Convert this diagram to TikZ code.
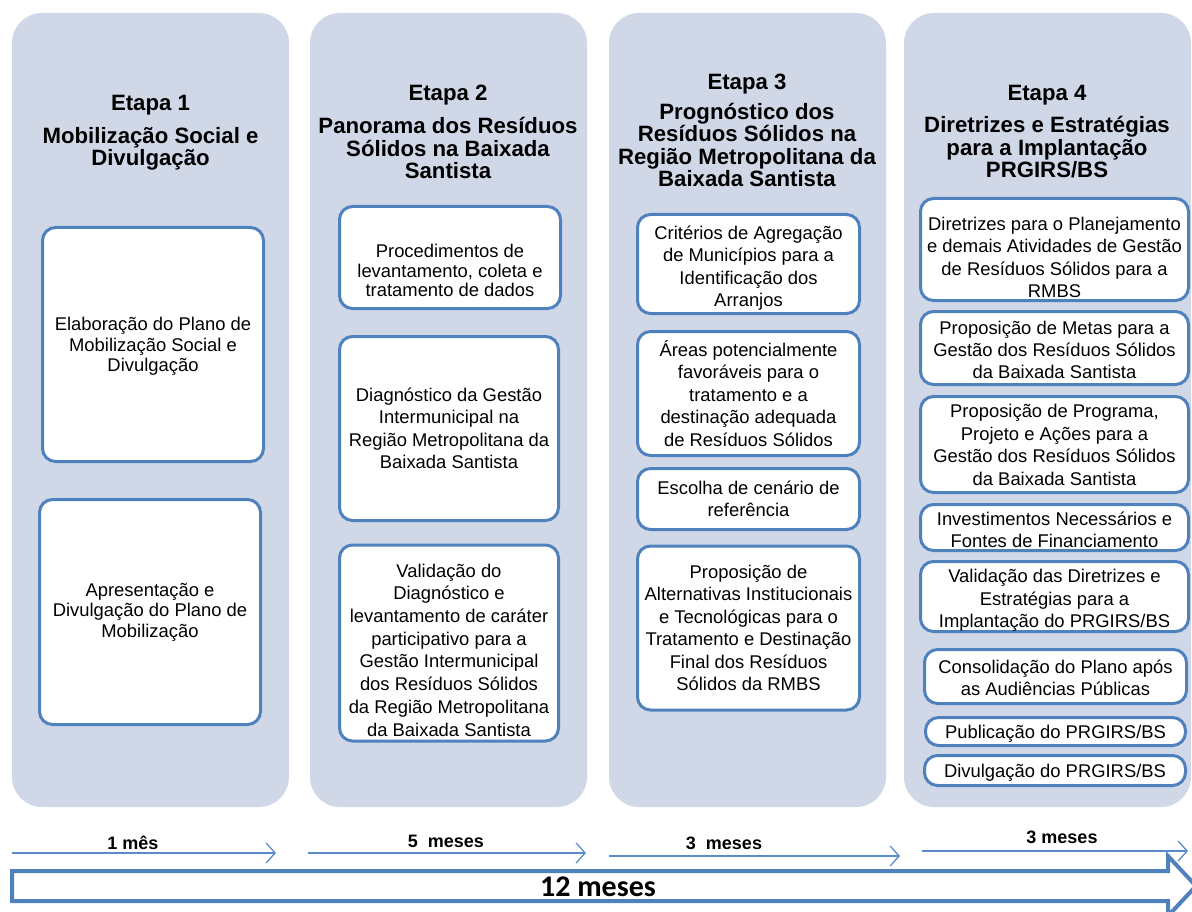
\documentclass[tikz,border=0pt]{standalone}
\usepackage{fontspec}
\setmainfont{Liberation Sans}
\newfontfamily\calib{Carlito}
\usetikzlibrary{arrows.meta}
\definecolor{colfill}{HTML}{D0D8E8}
\definecolor{boxline}{HTML}{4F81BD}
\definecolor{arrline}{HTML}{5B8CC8}
% #1 name, #2 cx, #3 cy, #4 width, #5 height, #6 text shift down, #7 baselineskip, #8 text
\newcommand\boxitem[8]{%
  \node[box, minimum width=#4, minimum height=#5] (#1) at (#2,#3) {};
  \node[boxtext, font=\fontsize{18.4}{#7}\selectfont] (#1-t) at ([yshift=-#6pt]#1.center) {#8};
}
\begin{document}
\begin{tikzpicture}[x=1pt,y=-1pt,
  column/.style={fill=colfill, draw=none, rounded corners=30pt, inner sep=0pt},
  etapa/.style={font=\bfseries\fontsize{22.2}{22.5}\selectfont, align=center, inner sep=0pt, anchor=base},
  title/.style={font=\bfseries\fontsize{22.2}{22.5}\selectfont, align=center, inner sep=0pt, anchor=base},
  box/.style={draw=boxline, line width=3pt, fill=white, rounded corners=13pt, inner sep=0pt},
  boxtext/.style={inner sep=0pt, align=center},
  dur/.style={font=\bfseries\fontsize{18}{20}\selectfont, inner sep=0pt},
  thin/.style={draw=arrline, line width=1.3pt, -{Straight Barb[length=9pt,width=20pt,line width=1.3pt]}},
  big/.style={draw=boxline, line width=4pt, fill=white, line join=miter}
]
\useasboundingbox (0,0) rectangle (1192,912);

% columns
\node[column, minimum width=277, minimum height=794] (c1) at (150.5,410) {};
\node[column, minimum width=277, minimum height=794] (c2) at (448.5,410) {};
\node[column, minimum width=277, minimum height=794] (c3) at (747.5,410) {};
\node[column, minimum width=287, minimum height=794] (c4) at (1047.5,410) {};

% titles (title nodes anchored at the baseline of their last line)
\node[etapa] (t1) at (150.5,111) {Etapa 1};
\node[title] (s1) at (150.5,166) {Mobilização Social e\\Divulgação};
\node[etapa] (t2) at (448,101) {Etapa 2};
\node[title] (s2) at (448,179) {Panorama dos Resíduos\\Sólidos na Baixada\\Santista};
\node[etapa] (t3) at (747,90) {Etapa 3};
\node[title] (s3) at (747,187) {Prognóstico dos\\Resíduos Sólidos na\\Região Metropolitana da\\Baixada Santista};
\node[etapa] (t4) at (1047,101) {Etapa 4};
\node[title] (s4) at (1047,178) {Diretrizes e Estratégias\\para a Implantação\\PRGIRS/BS};

% column 1
\boxitem{e1a}{153}{344.5}{221}{234}{2}{20.5}{Elaboração do Plano de\\Mobilização Social e\\Divulgação}
\boxitem{e1b}{150}{612}{221}{225}{0}{20.5}{Apresentação e\\Divulgação do Plano de\\Mobilização}

% column 2
\boxitem{e2a}{450}{257.5}{221}{102}{13}{19.5}{Procedimentos de\\levantamento, coleta e\\tratamento de dados}
\boxitem{e2b}{449}{428.5}{219}{184}{0}{22.4}{Diagnóstico da Gestão\\Intermunicipal na\\Região Metropolitana da\\Baixada Santista}
\boxitem{e2c}{449}{643}{219}{196}{7}{22.7}{Validação do\\Diagnóstico e\\levantamento de caráter\\participativo para a\\Gestão Intermunicipal\\dos Resíduos Sólidos\\da Região Metropolitana\\da Baixada Santista}

% column 3
\boxitem{e3a}{748.5}{264}{222}{99}{4}{22.4}{Critérios de Agregação\\de Municípios para a\\Identificação dos\\Arranjos}
\boxitem{e3b}{748.5}{393.5}{222}{124}{0}{22.4}{Áreas potencialmente\\favoráveis para o\\tratamento e a\\destinação adequada\\de Resíduos Sólidos}
\boxitem{e3c}{748.5}{499}{222}{61}{0}{22.4}{Escolha de cenário de\\referência}
\boxitem{e3d}{748.5}{628}{222}{164}{0}{22.4}{Proposição de\\Alternativas Institucionais\\e Tecnológicas para o\\Tratamento e Destinação\\Final dos Resíduos\\Sólidos da RMBS}

% column 4
\boxitem{e4a}{1054.5}{249.5}{268}{102}{8}{22.4}{Diretrizes para o Planejamento\\e demais Atividades de Gestão\\de Resíduos Sólidos para a\\RMBS}
\boxitem{e4b}{1054.5}{348}{268}{73}{2}{22.4}{Proposição de Metas para a\\Gestão dos Resíduos Sólidos\\da Baixada Santista}
\boxitem{e4c}{1054.5}{444.5}{268}{96}{0.5}{22.4}{Proposição de Programa,\\Projeto e Ações para a\\Gestão dos Resíduos Sólidos\\da Baixada Santista}
\boxitem{e4d}{1054.5}{527.5}{268}{46}{2.5}{22.4}{Investimentos Necessários e\\Fontes de Financiamento}
\boxitem{e4e}{1054.5}{596.5}{268}{70}{4}{22.4}{Validação das Diretrizes e\\Estratégias para a\\Implantação do PRGIRS/BS}
\boxitem{e4f}{1055.5}{676.5}{262}{54}{1.5}{22.4}{Consolidação do Plano após\\as Audiências Públicas}
\boxitem{e4g}{1055.5}{731.5}{260}{28}{2.5}{22.4}{Publicação do PRGIRS/BS}
\boxitem{e4h}{1055}{770.5}{261}{30}{2.5}{22.4}{Divulgação do PRGIRS/BS}

% durations
\coordinate (a1s) at (12,853);  \coordinate (a1e) at (276,853);
\coordinate (a2s) at (308,853); \coordinate (a2e) at (586,853);
\coordinate (a3s) at (609,856); \coordinate (a3e) at (900,856);
\coordinate (a4s) at (922,851); \coordinate (a4e) at (1188,851);
\draw[thin] (a1s) -- (a1e);
\draw[thin] (a2s) -- (a2e);
\draw[thin] (a3s) -- (a3e);
\draw[thin] (a4s) -- (a4e);
\node[dur] (d1) at (133,843) {1 mês};
\node[dur] (d2) at (446,841) {5\ \ meses};
\node[dur] (d3) at (724,843) {3\ \ meses};
\node[dur] (d4) at (1062,837) {3 meses};

% big arrow
\draw[big] (12,871) -- (1168,871) -- (1168,856) -- (1196,886) -- (1168,916) -- (1168,901) -- (12,901) -- cycle;
\node[font=\calib\bfseries\fontsize{30}{32}\selectfont, inner sep=0pt] (total) at (598,887) {12 meses};
\end{tikzpicture}
\end{document}
